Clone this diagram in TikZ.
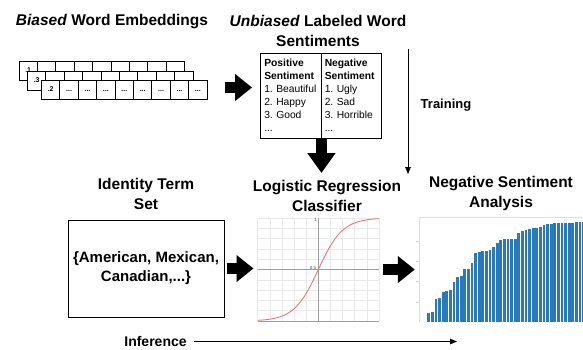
\documentclass[tikz,border=0pt]{standalone}
\usepackage{fontspec}
\setmainfont{Liberation Sans}
\usetikzlibrary{arrows.meta}
\definecolor{barblue}{HTML}{2A7AB9}
\definecolor{curvered}{HTML}{E07A7A}
\tikzstyle{cell}=[rectangle,draw=black,fill=white,line width=0.9pt,minimum width=18.4pt,minimum height=19pt,inner sep=0pt,font=\fontsize{7}{8}\selectfont\bfseries]
\tikzstyle{listbox}=[rectangle,draw=black,line width=0.9pt,minimum width=60.5pt,minimum height=85pt,inner sep=0pt,text width=53pt,align=left,font=\fontsize{10.3}{13}\selectfont\frenchspacing]
\tikzstyle{heading}=[align=center,font=\fontsize{15.5}{20}\selectfont\bfseries]
\tikzstyle{blockarrow}=[line width=10.5pt,-{Triangle[length=17pt,width=26pt]}]
\tikzstyle{thinarrow}=[line width=0.9pt,-{Triangle[length=7pt,width=5.5pt]}]
\tikzstyle{gridline}=[gray!18,line width=0.5pt]
\tikzstyle{axisline}=[gray!75,line width=0.6pt]
\tikzstyle{ticklabel}=[inner sep=0pt,text=gray!60!black,font=\fontsize{4.5}{5}\selectfont]

\begin{document}
\begin{tikzpicture}[x=1pt,y=-1pt]
\useasboundingbox (0,0) rectangle (583,349);

\node[heading] (embt) at (112,22) {\textit{Biased} Word Embeddings};
\foreach \row/\lx/\cy/\first in {b/19/70.5/.1, m/27.5/80.5/.3, f/41.5/89.5/.2}
  \foreach \i in {0,...,8}
    \node[cell] (\row\i) at ({\lx+9.2+18.4*\i},\cy) {\raisebox{-3pt}{\ifnum\i=0 \first\else\if\row f...\fi\fi}};

\node[heading] (sentt) at (318,31) {\textit{Unbiased} Labeled Word\\Sentiments};
\node[listbox] (pos) at (290.75,95.5) {\textbf{Positive}\\\textbf{Sentiment}\\1. Beautiful\\2. Happy\\3. Good\\...};
\node[listbox] (neg) at (351.25,95.5) {\textbf{Negative}\\\textbf{Sentiment}\\1. Ugly\\2. Sad\\3. Horrible\\...};

\draw[blockarrow,shorten <=17pt,shorten >=8pt] ([yshift=2pt]f8.east) -- ([yshift=2pt]f8.east -| pos.west);

\coordinate (logtop) at (321,173);
\draw[blockarrow,-{Triangle[length=20pt,width=27pt]}] (pos.south east) -- (pos.south east |- logtop);

\coordinate (trtop) at (408,49);
\coordinate (trend) at (408,174);
\draw[thinarrow] (trtop) -- (trend);
\node[font=\fontsize{13}{15}\selectfont\bfseries] (train) at (446,105) {Training};

\node[heading] (idt) at (146,194) {Identity Term\\Set};
\node[draw,line width=1pt,minimum width=156pt,minimum height=97pt,align=center,font=\fontsize{15}{19}\selectfont\bfseries] (idbox) at (146,268.5) {\{American, Mexican,\\Canadian,...\}};

\node[heading] (logt) at (327,195.5) {Logistic Regression\\Classifier};
\node[minimum width=121.3pt,minimum height=103pt,inner sep=0pt] (logit) at (318.35,269.5) {};
\foreach \i in {0,...,10}
  \draw[gridline] ({257.7+12.13*\i},218) -- ({257.7+12.13*\i},321);
\foreach \j in {0,...,10}
  \draw[gridline] (257.7,{218+10.3*\j}) -- (379,{218+10.3*\j});
\draw[axisline] (logit.north) -- (logit.south);
\draw[axisline] (logit.west) -- (logit.east);
\draw[axisline] (logit.south west) -- (logit.south east);
\node[ticklabel] (one) at (315.5,220) {1};
\node[ticklabel] (half) at (313,268.3) {0.5};
\draw[curvered,line width=0.9pt] plot[domain=-5:5,samples=80] ({318.35+12.13*\x},{321-103/(1+exp(-\x))});

\node[heading] (negt) at (501,193) {Negative Sentiment\\Analysis};
\node[minimum width=164pt,minimum height=105pt,inner sep=0pt] (bars) at (501,269.5) {};
\draw[gray!25,line width=0.6pt] (bars.south west) -- (bars.north west) -- (bars.north east);
\foreach \k in {1,...,4}
  \draw[gray!35,line width=0.5pt] (416,{322-20.2*\k}) -- (419,{322-20.2*\k});
\foreach \t [count=\i from 0] in {312.7,312,298.7,298,291.7,290.7,290,282.3,276.7,275.7,269.3,269.3,262.7,252.7,252,250.7,250.7,250,247.3,243.3,240,239.3,239.3,239.3,238.7,233.3,231,230,229.3,228.3,227.7,226.7,225,224.3,223.7,223.3,223.3,223.3,223.3,223.3,223.3,222,222,222}
  \fill[barblue] ({427.3+3.6*\i},322) rectangle ({430.1+3.6*\i},\t);

\draw[blockarrow,shorten <=2pt,shorten >=4pt] (idbox.east) -- (idbox.east -| logit.west);
\draw[blockarrow,shorten <=4pt,shorten >=4pt] (logit.east) -- (logit.east -| bars.west);

\node[font=\fontsize{14}{16}\selectfont\bfseries] (inf) at (155.5,341.5) {Inference};
\coordinate (infend) at (457,341);
\draw[thinarrow,shorten <=4pt] (inf.east) -- (inf.east -| infend);
\end{tikzpicture}
\end{document}
